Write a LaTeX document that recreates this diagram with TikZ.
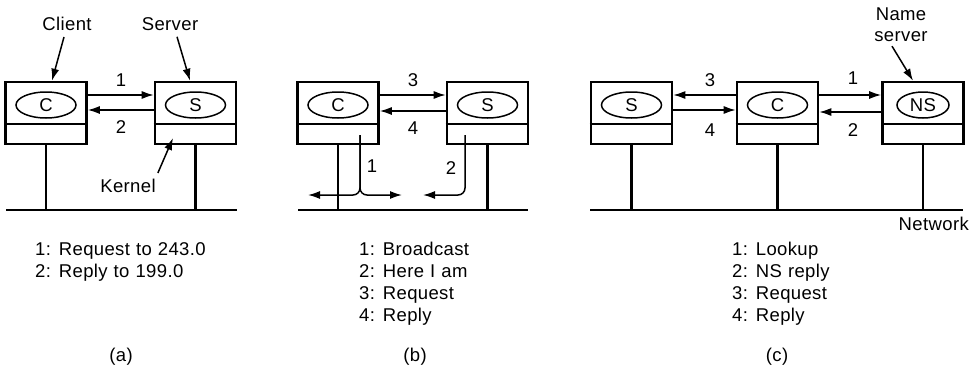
\documentclass[tikz,border=0pt]{standalone}
\usepackage{fontspec}
\setmainfont{Liberation Sans}[LetterSpace=2,WordSpace=1.1]
\usetikzlibrary{arrows.meta,shapes.geometric}
\newcommand{\mkhost}[4]{%
  \node[hostbox] (#1) at (#2,113) {};
  \draw[divline] ([yshift=-11pt]#1.west) -- ([yshift=-11pt]#1.east);
  \node[proc, minimum width=#4] (#1p) at (#2,105) {#3};
}
\begin{document}
\begin{tikzpicture}[x=1pt,y=-1pt,
  font=\fontsize{18.5}{21}\selectfont,
  every node/.style={inner sep=0pt},
  hostbox/.style={draw, line width=2.6pt, minimum width=81pt, minimum height=62pt},
  divline/.style={line width=1.8pt},
  proc/.style={draw, ellipse, line width=1.5pt, minimum height=26pt},
  net/.style={line width=2.8pt},
  drop/.style={line width=2.2pt},
  msg/.style={line width=1.5pt, -{Latex[length=12pt,width=8pt]}},
  point/.style={line width=1.5pt, -{Latex[length=12pt,width=8pt]}},
  txt/.style={anchor=base west},
  subcap/.style={anchor=base}]
\fill[white] (0,0) rectangle (972,370);
\useasboundingbox (0,0) rectangle (972,370);

% ---------- (a)
\mkhost{ca}{46}{C}{60pt}
\mkhost{sa}{195.5}{S}{60pt}
\coordinate (neta1) at (6,210);
\coordinate (neta2) at (237,210);
\draw[net] (neta1) -- (neta2);
\draw[drop] (ca.south) -- (ca.south |- neta1);
\draw[drop] (sa.south) -- (sa.south |- neta1);
\draw[msg] ([yshift=18pt]ca.east) -- ([yshift=18pt]sa.west);
\draw[msg] ([yshift=3pt]sa.west) -- ([yshift=3pt]ca.east);
\node (a1) at (121,80) {1};
\node (a2) at (121,127) {2};
\node (clientlbl) at (67,24) {Client};
\node (serverlbl) at (170,24) {Server};
\node (kernellbl) at (128,186) {Kernel};
\coordinate (ktip) at ([shift={(-22.5pt,-25pt)}]sa.center);
\draw[point] ([shift={(-3pt,-6pt)}]clientlbl.south) -- ([xshift=6pt]ca.north);
\draw[point] ([shift={(7pt,-6pt)}]serverlbl.south) -- ([xshift=-5.5pt]sa.north);
\draw[point] ([shift={(2pt,6pt)}]kernellbl.north east) -- (ktip);

% ---------- (b)
\mkhost{cb}{338}{C}{60pt}
\mkhost{sb}{487.5}{S}{60pt}
\coordinate (netb1) at (298,210);
\coordinate (netb2) at (528,210);
\draw[net] (netb1) -- (netb2);
\draw[drop] (cb.south) -- (cb.south |- netb1);
\draw[drop] (sb.south) -- (sb.south |- netb1);
\draw[msg] ([yshift=18pt]cb.east) -- ([yshift=18pt]sb.west);
\draw[msg] ([yshift=2pt]sb.west) -- ([yshift=2pt]cb.east);
\node (b3) at (413,80) {3};
\node (b4) at (413,128) {4};
\coordinate (bc0) at (360,135);
\coordinate (bcL) at (308,195);
\coordinate (bcR) at (402,195);
\draw[msg, rounded corners=7pt] (bc0) -- (bc0 |- bcL) -- (bcL);
\draw[msg, rounded corners=7pt] (bc0) -- (bc0 |- bcR) -- (bcR);
\node (b1) at (372,166) {1};
\coordinate (bs0) at (465,135);
\coordinate (bsL) at (423,195);
\draw[msg, rounded corners=7pt] (bs0) -- (bs0 |- bsL) -- (bsL);
\node (b2) at (451,168) {2};

% ---------- (c)
\mkhost{sc}{631.5}{S}{60pt}
\mkhost{cc}{777.5}{C}{60pt}
\mkhost{nsc}{923}{NS}{52pt}
\coordinate (netc1) at (590,210);
\coordinate (netc2) at (963,210);
\draw[net] (netc1) -- (netc2);
\draw[drop] (sc.south) -- (sc.south |- netc1);
\draw[drop] (cc.south) -- (cc.south |- netc1);
\draw[drop] (nsc.south) -- (nsc.south |- netc1);
\draw[msg] ([yshift=18pt]cc.west) -- ([yshift=18pt]sc.east);
\draw[msg] ([yshift=3pt]sc.east) -- ([yshift=3pt]cc.west);
\draw[msg] ([yshift=18pt]cc.east) -- ([yshift=18pt]nsc.west);
\draw[msg] ([yshift=1pt]nsc.west) -- ([yshift=1pt]cc.east);
\node (c3) at (710,80) {3};
\node (c4) at (710,130) {4};
\node (c1) at (853,78) {1};
\node (c2) at (853,130) {2};
\node[align=center] (nslbl) at (901,25) {Name\\server};
\draw[point] ([shift={(-9pt,-4pt)}]nslbl.south) -- ([xshift=-10pt]nsc.north);
\node[anchor=east] (netlbl) at (969,224) {Network};

% ---------- legends
\node[txt] (la1) at (35,255) {1: Request to 243.0};
\node[txt] (la2) at (35,277) {2: Reply to 199.0};
\node[txt] (lb1) at (359,255) {1: Broadcast};
\node[txt] (lb2) at (359,277) {2: Here I am};
\node[txt] (lb3) at (359,299) {3: Request};
\node[txt] (lb4) at (359,321) {4: Reply};
\node[txt] (lc1) at (732,255) {1: Lookup};
\node[txt] (lc2) at (732,277) {2: NS reply};
\node[txt] (lc3) at (732,299) {3: Request};
\node[txt] (lc4) at (732,321) {4: Reply};
\node[subcap] (capa) at (121,361) {(a)};
\node[subcap] (capb) at (415,361) {(b)};
\node[subcap] (capc) at (777,361) {(c)};
\end{tikzpicture}
\end{document}
